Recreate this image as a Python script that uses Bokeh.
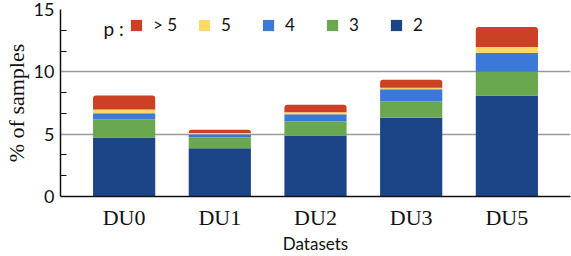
from bokeh.plotting import figure
from bokeh.models import (FactorRange, Range1d, FixedTicker, Legend, LegendItem,
                          Label, ColumnDataSource)
from bokeh.embed import file_html
from bokeh.resources import INLINE

datasets = ["DU0", "DU1", "DU2", "DU3", "DU5"]
p2 = [4.73, 3.87, 4.89, 6.31, 8.10]
p3 = [1.47, 0.86, 1.12, 1.31, 1.90]
p4 = [0.48, 0.27, 0.59, 0.98, 1.52]
p5 = [0.30, 0.10, 0.16, 0.12, 0.48]
pgt5 = [1.12, 0.25, 0.59, 0.64, 1.60]
y_ticks = [0, 5, 10, 15]
legend_labels = ["> 5", "5", "4", "3", "2"]

colors = ["#1C4587", "#6AA84F", "#3C78D8", "#FFD966", "#CC4125"]
stackers = ["p2", "p3", "p4", "p5", "pgt5"]

src = ColumnDataSource(dict(x=datasets, p2=p2, p3=p3, p4=p4, p5=p5, pgt5=pgt5))

p = figure(width=571, height=256, output_backend="svg", toolbar_location=None,
           x_range=FactorRange(factors=datasets, range_padding=0.165,
                               range_padding_units="absolute"),
           y_range=Range1d(0, 15),
           min_border_left=60, min_border_right=1, min_border_top=9,
           min_border_bottom=60)
p.outline_line_color = None
p.background_fill_color = "white"

rs = p.vbar_stack(stackers, x="x", width=0.65, source=src, color=colors,
                  line_color=None)
rs[-1].glyph.border_radius = (3, 3, 0, 0)

minor = []
for a in range(0, 15, 5):
    minor += [a + 5/3, a + 10/3]
p.yaxis.ticker = FixedTicker(ticks=y_ticks, minor_ticks=minor)
p.yaxis.major_tick_line_color = None
p.yaxis.major_tick_in = 0
p.yaxis.major_tick_out = 0
p.yaxis.minor_tick_in = 6
p.yaxis.minor_tick_out = 0
p.yaxis.minor_tick_line_color = "#111111"
p.yaxis.minor_tick_line_width = 1.2
p.yaxis.axis_line_color = "#111111"
p.yaxis.axis_line_width = 1.5
p.yaxis.major_label_text_font = "Lato"
p.yaxis.major_label_text_font_size = "18px"
p.yaxis.major_label_text_color = "#111111"
p.yaxis.major_label_standoff = 6
p.yaxis.axis_label = "% of samples"
p.yaxis.axis_label_text_font = "Liberation Serif"
p.yaxis.axis_label_text_font_style = "normal"
p.yaxis.axis_label_text_font_size = "22px"
p.yaxis.axis_label_text_color = "#111111"
p.yaxis.axis_label_standoff = 2

p.xaxis.major_tick_line_color = None
p.xaxis.minor_tick_line_color = None
p.xaxis.major_tick_in = 0
p.xaxis.major_tick_out = 0
p.xaxis.minor_tick_in = 0
p.xaxis.minor_tick_out = 0
p.xaxis.axis_line_color = "#111111"
p.xaxis.axis_line_width = 1.5
p.xaxis.major_label_text_font = "Liberation Serif"
p.xaxis.major_label_text_font_size = "22px"
p.xaxis.major_label_text_color = "#111111"
p.xaxis.major_label_standoff = 8
p.xaxis.axis_label = "Datasets"
p.xaxis.axis_label_text_font = "Lato"
p.xaxis.axis_label_text_font_style = "normal"
p.xaxis.axis_label_text_font_size = "17px"
p.xaxis.axis_label_text_color = "#111111"
p.xaxis.axis_label_standoff = 0

p.xgrid.grid_line_color = None
p.ygrid.grid_line_color = "#9a9a9a"
p.ygrid.grid_line_width = 1.5

items = [LegendItem(label=lab, renderers=[r]) for lab, r in zip(legend_labels, rs[::-1])]
legend = Legend(items=items, orientation="horizontal", location=(69, 161),
                glyph_width=14, glyph_height=14, label_height=14,
                label_standoff=10, spacing=20, padding=0, margin=0,
                border_line_color=None, background_fill_alpha=0,
                label_text_font="Lato", label_text_font_size="17px",
                label_text_color="#111111")
p.add_layout(legend, "center")

p.add_layout(Label(x=0.284, y=13.48, text="p :", text_font="Lato",
                   text_font_size="19px", text_baseline="middle",
                   text_color="#111111"))

open("out.html", "w").write(file_html(p, INLINE))
